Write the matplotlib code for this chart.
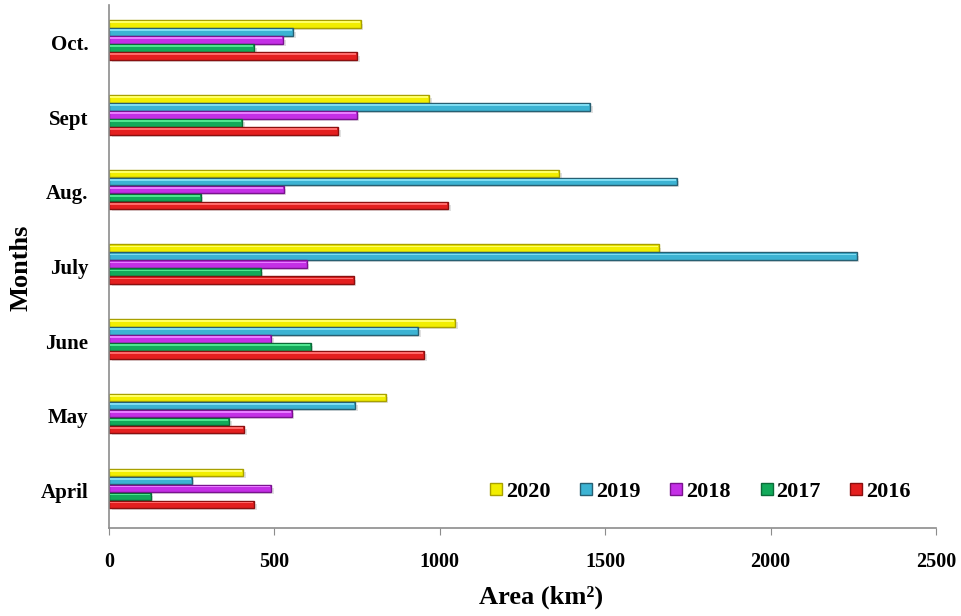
import numpy as np
import matplotlib
matplotlib.use('Agg')
import matplotlib.pyplot as plt
from matplotlib.lines import Line2D

# data (km2)
months = ['April', 'May', 'June', 'July', 'Aug.', 'Sept', 'Oct.']
years = ['2020', '2019', '2018', '2017', '2016']
area = {
    '2020': [406, 836, 1047, 1662, 1361, 967, 761],
    '2019': [250, 744, 935, 2260, 1716, 1455, 557],
    '2018': [490, 552, 490, 598, 528, 749, 527],
    '2017': [126, 363, 610, 459, 277, 403, 439],
    '2016': [439, 408, 952, 740, 1025, 692, 751],
}
face = {'2020': '#f2ee00', '2019': '#3cb3d3', '2018': '#c42fe6',
        '2017': '#12aa5a', '2016': '#e41f1f'}
light = {'2020': '#ffff66', '2019': '#7fdcf2', '2018': '#e77dff',
         '2017': '#4ee58f', '2016': '#ff6a6a'}
dark = {'2020': '#a8a000', '2019': '#275f72', '2018': '#7a138f',
        '2017': '#0b6b38', '2016': '#8a0f0f'}

plt.rcParams['font.family'] = 'Liberation Serif'
plt.rcParams['font.weight'] = 'bold'

fig = plt.figure(figsize=(9.61, 6.16), dpi=100)
ax = fig.add_axes([0.1134, 0.1429, 0.8606, 0.849])

y = np.arange(len(months))
h = 0.107
for i, yr in enumerate(years):
    pos = y + 0.03 + (2 - i) * h
    vals = area[yr]
    # soft shadow
    ax.barh(pos - 0.035, vals, height=h * 0.8, left=8, color='#000000',
            alpha=0.12, linewidth=0, zorder=1)
    ax.barh(pos, vals, height=h * 0.95, color=face[yr], edgecolor=dark[yr],
            linewidth=1.0, zorder=2)
    # highlight strip on top edge
    ax.barh(pos + h * 0.22, np.array(vals) - 6, height=h * 0.22, left=3,
            color=light[yr], linewidth=0, zorder=3)

ax.set_xlim(0, 2500)
ax.set_ylim(-0.5, 6.5)
ax.set_xticks(np.arange(0, 2501, 500))
ax.set_yticks(y)
ax.set_yticklabels(months)
for s in ['top', 'right']:
    ax.spines[s].set_visible(False)
for s in ['left', 'bottom']:
    ax.spines[s].set_color('#8c8c8c')
    ax.spines[s].set_linewidth(1.2)
ax.tick_params(axis='x', length=5, color='#8c8c8c', pad=12, labelsize=14.5)
ax.tick_params(axis='y', length=0, pad=15, labelsize=15)

ax.set_xlabel('Area (km²)', fontsize=19, fontweight='bold')
ax.set_ylabel('Months', fontsize=19, fontweight='bold')
ax.xaxis.set_label_coords(0.522, -0.11)
ax.yaxis.set_label_coords(-0.093, 0.497)

handles = [Line2D([], [], marker='s', linestyle='', markersize=9,
                  markerfacecolor=face[yr], markeredgecolor=dark[yr],
                  markeredgewidth=1) for yr in years]
ax.legend(handles, years, ncol=5, loc='center', bbox_to_anchor=(0.715, 0.069),
          frameon=False, fontsize=16, handlelength=0.6, handletextpad=0.15,
          columnspacing=1.3)

fig.savefig('out.png', dpi=100)
